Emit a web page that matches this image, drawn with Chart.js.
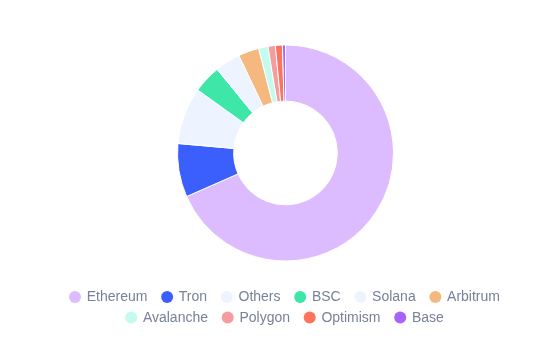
<!DOCTYPE html>
<html>
<head>
<meta charset="utf-8">
<script src="https://cdn.jsdelivr.net/npm/chart.js@4/dist/chart.umd.min.js"></script>
<style>
    html, body { margin: 0; padding: 0; background: #fff; }
    #wrap { position: relative; width: 549px; height: 353px; }
</style>
</head>
<body>
<div id="wrap"><canvas id="chainChart"></canvas></div>
<script>
const chains = ['Ethereum', 'Tron', 'Others', 'BSC', 'Solana', 'Arbitrum', 'Avalanche', 'Polygon', 'Optimism', 'Base'];
const shares = [68.4, 8.0, 8.5, 4.2, 3.8, 3.1, 1.4, 1.1, 1.05, 0.45];
const chainColors = ['#dcbcfe', '#3b5ffc', '#eef4ff', '#3ee6a7', '#eef4ff', '#f5b97f', '#c5fbef', '#f59c9e', '#fe735d', '#a763fc'];

// legend look: dot radius, dot->text gap, gap between items, wrap width, row centres
const DOT_R = 6;
const TEXT_GAP = 5.7;
const ITEM_GAP = 13.7;
const LEGEND_MAX_W = 440;
const LEGEND_ROW_Y = [297, 317.5];

// the built-in legend can't do wide item gaps with tight rows, so draw it here
const rowLegend = {
    id: 'rowLegend',
    afterDraw(chart) {
        const {ctx, chartArea} = chart;
        const colors = chart.data.datasets[0].backgroundColor;
        ctx.save();
        ctx.font = '14px Arial, "Liberation Sans", sans-serif';
        ctx.textBaseline = 'middle';

        const items = chart.data.labels.map((label, i) => ({
            label,
            color: colors[i],
            width: DOT_R * 2 + TEXT_GAP + ctx.measureText(label).width
        }));

        const rows = [[]];
        let rowW = 0;
        items.forEach(item => {
            const cur = rows[rows.length - 1];
            const add = (cur.length ? ITEM_GAP : 0) + item.width;
            if (cur.length && rowW + add > LEGEND_MAX_W) {
                rows.push([item]);
                rowW = item.width;
            } else {
                cur.push(item);
                rowW += add;
            }
        });

        const cx = (chartArea.left + chartArea.right) / 2 - 1;
        rows.forEach((row, r) => {
            const total = row.reduce((s, it) => s + it.width, 0) + ITEM_GAP * (row.length - 1);
            let x = cx - total / 2;
            const y = LEGEND_ROW_Y[r] ?? LEGEND_ROW_Y[0] + r * 20.5;
            row.forEach(item => {
                ctx.beginPath();
                ctx.arc(x + DOT_R, y, DOT_R, 0, Math.PI * 2);
                ctx.fillStyle = item.color;
                ctx.fill();
                ctx.fillStyle = '#76829a';
                ctx.fillText(item.label, x + DOT_R * 2 + TEXT_GAP, y + 0.5);
                x += item.width + ITEM_GAP;
            });
        });
        ctx.restore();
    }
};

const ctx = document.getElementById('chainChart').getContext('2d');
const chainChart = new Chart(ctx, {
    type: 'doughnut',
    data: {
        labels: chains,
        datasets: [{
            data: shares,
            backgroundColor: chainColors,
            borderColor: '#fff',
            borderWidth: 1
        }]
    },
    options: {
        responsive: true,
        maintainAspectRatio: false,
        animation: false,
        radius: 108,
        cutout: '48%',
        layout: { padding: { left: 41, right: 19, top: 40, bottom: 87 } },
        plugins: {
            tooltip: { enabled: false },
            legend: { display: false }
        }
    },
    plugins: [rowLegend]
});
</script>
</body>
</html>
